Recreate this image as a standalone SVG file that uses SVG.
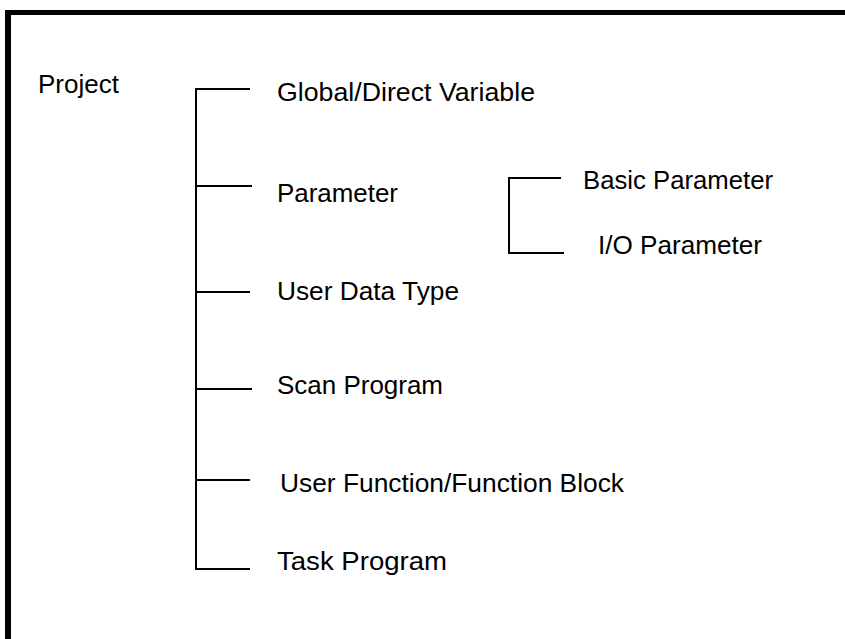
<svg xmlns="http://www.w3.org/2000/svg" width="845" height="639" viewBox="0 0 845 639">
<style>
text{font-family:"Liberation Sans",Arial,sans-serif;font-size:25.5px;fill:#000}
.ln{stroke:#000;stroke-width:2;fill:none}
</style>
<rect width="845" height="639" fill="#fff"/>
<g id="frame">
<rect x="5" y="10" width="840" height="5" fill="#000"/>
<rect x="5" y="10" width="6" height="629" fill="#000"/>
</g>
<g id="connectors">
<path class="ln" d="M250,89 H196 V569 H250"/>
<path class="ln" d="M196,186 H252"/>
<path class="ln" d="M196,292 H250"/>
<path class="ln" d="M196,389 H252"/>
<path class="ln" d="M196,480 H250"/>
<path class="ln" d="M561,178 H509 V253 H564"/>
</g>
<g id="project"><text x="38" y="93" textLength="81" lengthAdjust="spacingAndGlyphs">Project</text></g>
<g id="global"><text x="277" y="101" textLength="258" lengthAdjust="spacingAndGlyphs">Global/Direct Variable</text></g>
<g id="parameter"><text x="277" y="202" textLength="121" lengthAdjust="spacingAndGlyphs">Parameter</text></g>
<g id="basic"><text x="583" y="189" textLength="190" lengthAdjust="spacingAndGlyphs">Basic Parameter</text></g>
<g id="io"><text x="598" y="254" textLength="164" lengthAdjust="spacingAndGlyphs">I/O Parameter</text></g>
<g id="udt"><text x="277" y="300" textLength="182" lengthAdjust="spacingAndGlyphs">User Data Type</text></g>
<g id="scan"><text x="277" y="394" textLength="166" lengthAdjust="spacingAndGlyphs">Scan Program</text></g>
<g id="ufb"><text x="280" y="492" textLength="344" lengthAdjust="spacingAndGlyphs">User Function/Function Block</text></g>
<g id="task"><text x="277" y="570" textLength="170" lengthAdjust="spacingAndGlyphs">Task Program</text></g>
</svg>
